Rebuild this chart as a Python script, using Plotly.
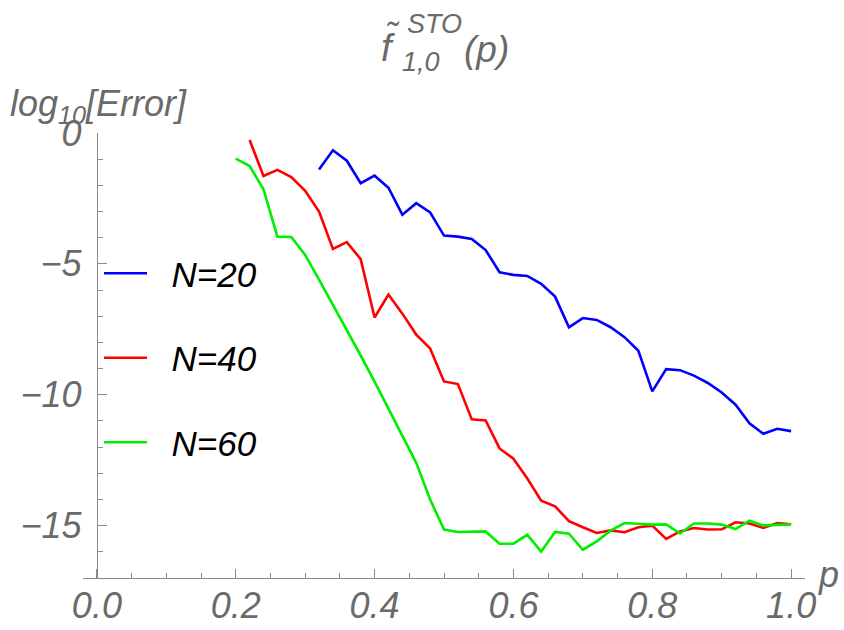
import plotly.graph_objects as go

# ---- data ----
p_vals = [round(0.20 + 0.02 * i, 2) for i in range(41)]

n20_p = p_vals[6:]
n20_err = [-1.39, -0.66, -1.06, -1.92, -1.63, -2.09, -3.12, -2.68, -3.03, -3.92,
           -3.96, -4.05, -4.47, -5.32, -5.42, -5.46, -5.76, -6.25, -7.42, -7.07,
           -7.14, -7.42, -7.80, -8.32, -9.87, -9.02, -9.06, -9.27, -9.55, -9.91,
           -10.38, -11.09, -11.49, -11.30, -11.39]

n40_p = p_vals[1:]
n40_err = [-0.27, -1.64, -1.41, -1.68, -2.21, -3.00, -4.43, -4.17, -4.82, -7.05,
           -6.17, -6.90, -7.70, -8.23, -9.49, -9.59, -10.94, -10.98, -12.05, -12.44,
           -13.20, -14.05, -14.26, -14.83, -15.06, -15.28, -15.18, -15.25, -15.06, -15.00,
           -15.51, -15.22, -15.09, -15.15, -15.14, -14.87, -14.92, -15.09, -14.90, -14.95]

n60_p = p_vals
n60_err = [-0.98, -1.26, -2.15, -3.96, -3.97, -4.66, -5.60, -6.55, -7.50, -8.50,
           -9.50, -10.55, -11.60, -12.60, -14.00, -15.15, -15.24, -15.23, -15.22, -15.69,
           -15.69, -15.35, -15.99, -15.24, -15.31, -15.92, -15.60, -15.19, -14.90, -14.93,
           -14.96, -14.95, -15.30, -14.92, -14.92, -14.96, -15.13, -14.81, -14.99, -14.97,
           -14.95]

series_names = ["N=20", "N=40", "N=60"]
series_colors = ["#0000ff", "#ff0000", "#00ee00"]

x_tick_vals = [0.0, 0.2, 0.4, 0.6, 0.8, 1.0]
x_tick_text = ["0.0", "0.2", "0.4", "0.6", "0.8", "1.0"]
y_tick_vals = [0, -5, -10, -15]
y_tick_text = ["0", "\u22125", "\u221210", "\u221215"]

# ---- layout geometry (pixels) ----
W, H = 844, 630
L, R, T, B = 83, 39, 133, 52
PW, PH = W - L - R, H - T - B
XMIN, XMAX = -0.02, 1.02


def px2x(p):
    return (p - L) / PW


def py2y(p):
    return (H - B - p) / PH


gray = "#6a6a6a"
axis_gray = "#8a8a8a"
font_fam = "Liberation Sans"
pad = "\u00a0\u00a0"

fig = go.Figure()
for i, (xs, ys) in enumerate([(n20_p, n20_err), (n40_p, n40_err), (n60_p, n60_err)]):
    fig.add_trace(go.Scatter(
        x=xs, y=ys, mode="lines", name=pad + series_names[i],
        line=dict(color=series_colors[i], width=2.6),
        legendgroup=series_names[i],
    ))

fig.update_layout(
    width=W, height=H,
    margin=dict(l=L, r=R, t=T, b=B, autoexpand=False),
    plot_bgcolor="white", paper_bgcolor="white",
    showlegend=True,
    legend=dict(
        x=px2x(99), y=py2y(244), xanchor="left", yanchor="top",
        font=dict(family=font_fam, size=35, color="black", style="italic"),
        bgcolor="rgba(0,0,0,0)", tracegroupgap=36, itemwidth=43,
    ),
    xaxis=dict(
        range=[XMIN, XMAX], showgrid=False, zeroline=False, automargin=False,
        showline=True, linecolor=axis_gray, linewidth=1.3,
        tickvals=x_tick_vals, ticktext=x_tick_text,
        ticks="inside", ticklen=9, tickcolor=axis_gray, tickwidth=1.2,
        ticklabelstandoff=-4,
        tickfont=dict(family=font_fam, size=36, color=gray, style="italic"),
        minor=dict(dtick=0.05, tick0=0, ticks="inside", ticklen=5,
                   tickcolor=axis_gray, tickwidth=1.0, showgrid=False),
    ),
    yaxis=dict(
        range=[-17, 0], showgrid=False, zeroline=False, automargin=False,
        anchor="free", position=(0 - XMIN) / (XMAX - XMIN),
        showline=True, linecolor=axis_gray, linewidth=1.3,
        tickvals=y_tick_vals, ticktext=y_tick_text,
        ticks="inside", ticklen=9, tickcolor=axis_gray, tickwidth=1.2,
        ticklabelstandoff=8,
        tickfont=dict(family=font_fam, size=36, color=gray, style="italic"),
        minor=dict(dtick=1, tick0=0, ticks="inside", ticklen=5,
                   tickcolor=axis_gray, tickwidth=1.0, showgrid=False),
    ),
)


def ann(text, xp, yp, size, xanchor="center", yanchor="middle", color=gray):
    fig.add_annotation(
        text=text, xref="paper", yref="paper", x=px2x(xp), y=py2y(yp),
        xanchor=xanchor, yanchor=yanchor, showarrow=False,
        font=dict(family=font_fam, size=size, color=color, style="italic"),
    )


# y-axis label
ann("log<sub>10</sub>[Error]", 8, 106, 36, xanchor="left")
# x-axis label
ann("p", 829, 574, 36)
# title pieces
ann("f", 388, 48, 38)
ann("\u02dc", 393, 34, 34)
ann("STO", 434, 24, 27)
ann("1,0", 421, 62, 27)
ann("(p)", 486, 50, 37)

fig.write_html("out.html")
